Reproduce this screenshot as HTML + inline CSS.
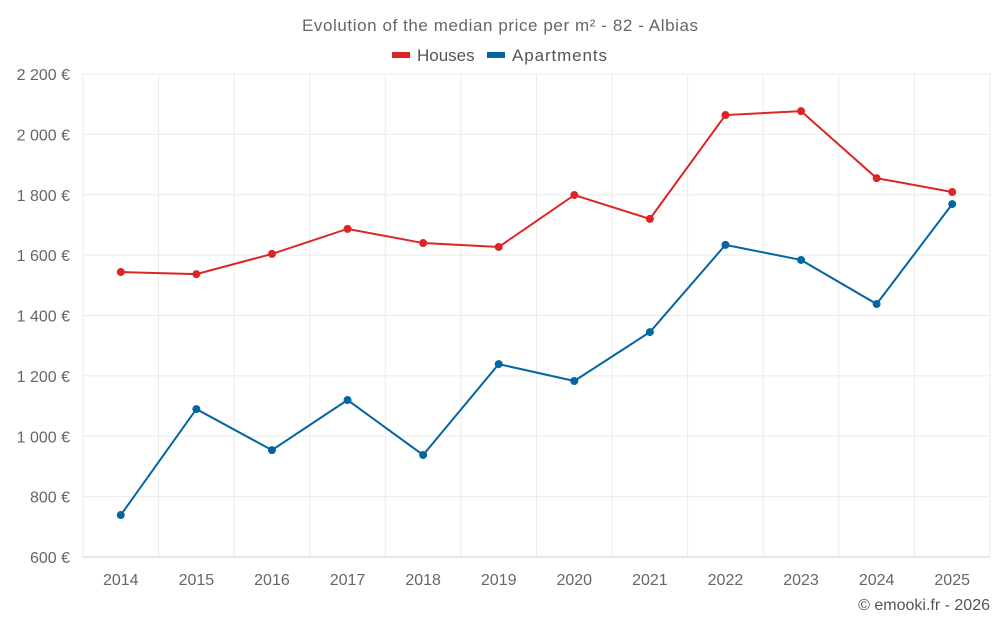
<!DOCTYPE html>
<html><head><meta charset="utf-8"><style>
html,body{margin:0;padding:0;background:#fff;}
svg{display:block;font-family:"Liberation Sans",Roboto,sans-serif;}
</style></head><body>
<svg id="chart" width="1000" height="625">
<text x="500" y="31" text-anchor="middle" font-size="17" fill="#666" textLength="396">Evolution of the median price per m² - 82 - Albias</text>
<g>
<g><rect x="392" y="52" width="18" height="6" fill="#dc2626"/><text x="417" y="61" font-size="17" fill="#555">Houses</text></g>
<g><rect x="487" y="52" width="18" height="6" fill="#0465a0"/><text x="512" y="61" font-size="17" fill="#555" textLength="95">Apartments</text></g>
</g>
<g id="grid"></g><g id="axes"></g><g id="series"></g>
<text x="990" y="610" text-anchor="end" font-size="16" fill="#555">© emooki.fr - 2026</text>
</svg>
<script>
const years=["2014","2015","2016","2017","2018","2019","2020","2021","2022","2023","2024","2025"];
const houses=[1544,1537,1604,1687,1640,1627,1799,1720,2064,2077,1855,1809];
const apartments=[739,1090,954,1120,938,1239,1183,1345,1634,1584,1438,1769];
const yTicks=[600,800,1000,1200,1400,1600,1800,2000,2200];
const yLabels=["600 €","800 €","1 000 €","1 200 €","1 400 €","1 600 €","1 800 €","2 000 €","2 200 €"];
const L=83,R=990,T=74,B=557,NS="http://www.w3.org/2000/svg";
const step=(R-L)/years.length;
const xs=i=>L+step*(i+0.5);
const ys=v=>B-(v-600)/(2200-600)*(B-T);
function mk(tag,attrs,parent){const e=document.createElementNS(NS,tag);for(const k in attrs)e.setAttribute(k,attrs[k]);parent.appendChild(e);return e;}
const grid=document.getElementById('grid'),axes=document.getElementById('axes'),ser=document.getElementById('series');
yTicks.forEach((t,i)=>{
 const l=mk('line',{x1:L,x2:R,y1:ys(t),y2:ys(t),stroke:i==0?'#ccc':'#ebebeb','stroke-width':1},grid);
 
 
 const tx=mk('text',{x:70,y:ys(t)+6,'text-anchor':'end','font-size':16,fill:'#666'},axes);
 tx.textContent=yLabels[i];
 
 
});
for(let i=0;i<=years.length;i++){
 const l=mk('line',{x1:L+step*i,x2:L+step*i,y1:T,y2:B,stroke:'#ebebeb','stroke-width':1},grid);
 
 
}
years.forEach((y,i)=>{
 const tx=mk('text',{x:xs(i),y:585,'text-anchor':'middle','font-size':16,fill:'#666'},axes);
 tx.textContent=y;
 
 
});
function draw(vals,color,name){
 const p=mk('polyline',{points:vals.map((v,i)=>xs(i)+','+ys(v)).join(' '),fill:'none',stroke:color,'stroke-width':2},ser);
 
 
 vals.forEach((v,i)=>{
  const c=mk('circle',{cx:xs(i),cy:ys(v),r:4,fill:color},ser);
  
  
 });
}
draw(houses,'#dc2626','houses');
draw(apartments,'#0465a0','apartments');
</script>
</body></html>
